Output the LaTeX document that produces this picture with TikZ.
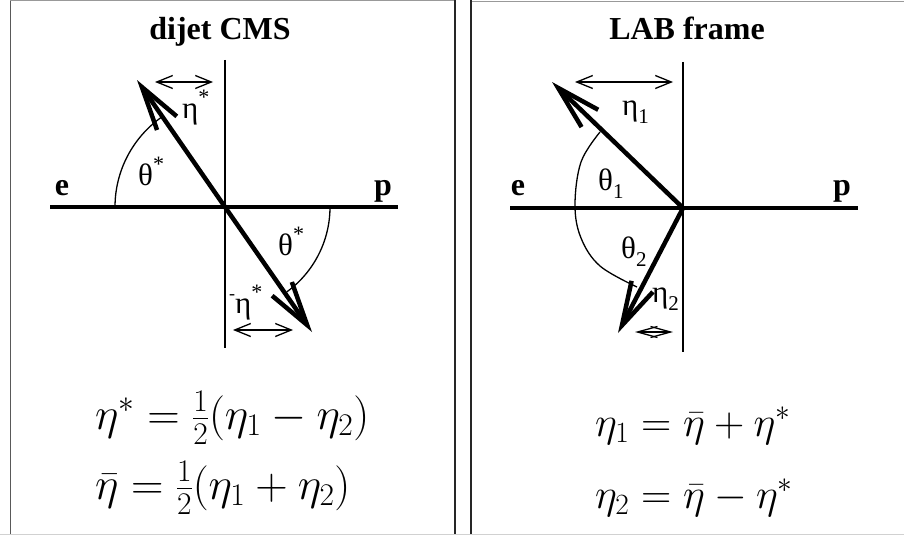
\RequirePackage{fix-cm}
\documentclass[tikz,border=0pt]{standalone}
\usepackage[no-math]{fontspec}
\setmainfont{Liberation Serif}
\usetikzlibrary{arrows.meta}
\newcommand{\Ast}{\raisebox{0.42em}{\fontsize{22}{22}\selectfont *}}
\newcommand{\Sub}[1]{\raisebox{-0.28em}{\fontsize{21}{21}\selectfont #1}}
\begin{document}
\begin{tikzpicture}[x=1pt,y=-1pt,
  axisline/.style={line width=4pt},
  vaxis/.style={line width=1.5pt},
  vec/.style={line width=4.5pt,-{Straight Barb[length=44pt,width=24pt]}},
  spanarrow/.style={line width=1.3pt,{Straight Barb[length=16pt,width=13pt]}-{Straight Barb[length=16pt,width=13pt]}},
  anglearc/.style={line width=1.3pt},
  frameline/.style={line width=1.4pt,black!85},
  title/.style={font=\fontsize{32}{32}\selectfont\bfseries, anchor=base, inner sep=0pt},
  endlbl/.style={font=\fontsize{32}{32}\selectfont\bfseries, anchor=base, inner sep=0pt},
  glbl/.style={font=\fontsize{31}{31}\selectfont, anchor=base west, inner sep=0pt},
  formula/.style={font=\fontsize{45}{50}\selectfont, anchor=base west, inner sep=0pt},
  formulaR/.style={font=\fontsize{42}{48}\selectfont, anchor=base west, inner sep=0pt},
]
\path[use as bounding box] (0,0) rectangle (904,535);

% panel frames
\draw[line width=1.5pt,black!65] (10.5,0) -- (10.5,535);
\draw[line width=1.2pt,black!40] (10,0.8) -- (455,0.8);
\draw[line width=1.2pt,black!40] (471,1.2) -- (904,1.2);
\draw[frameline] (455,0) -- (455,535);
\draw[frameline] (471,0) -- (471,535);
\draw[line width=1pt,black!18] (0,534.5) -- (904,534.5);

% ---------------- left panel: dijet CMS ----------------
\node[title] (t1) at (220,40) {dijet CMS};
\coordinate (O1) at (225,207);
\coordinate (ax1w) at (50,207);
\coordinate (ax1e) at (398,207);
\coordinate (ax1n) at (225,60);
\coordinate (ax1s) at (225,348);
\coordinate (A) at (137,80);
\coordinate (B) at (312,332);
\draw[axisline] (ax1w) -- (ax1e);
\draw[vaxis] (ax1n) -- (ax1s);
\node[endlbl] (e1) at (62,195) {e};
\node[endlbl] (p1) at (383,195) {p};
\draw[anglearc] (115,207) arc[start angle=180,end angle=235,radius=110];
\draw[anglearc] (330,207) arc[start angle=0,end angle=54,radius=105];
\draw[vec] (O1) -- (A);
\draw[vec] (O1) -- (B);
\coordinate (s1a) at (155,82);
\coordinate (s1b) at (213,82);
\draw[spanarrow] (s1a) -- (s1b);
\coordinate (s2a) at (233,330);
\coordinate (s2b) at (293,330);
\draw[spanarrow] (s2a) -- (s2b);
\node[glbl] (th1) at (138,185) {θ\Ast};
\node[glbl] (th2) at (278,255) {θ\Ast};
\node[glbl] (et1) at (182,118) {η\Ast};
\node[glbl] (et2) at (229,313) {\raisebox{0.45em}{\fontsize{18}{18}\selectfont -}η\Ast};

\node[formula] (f1) at (95,429) {$\eta^* = \frac{1}{2}(\eta_1 - \eta_2)$};
\node[formula] (f2) at (95,499) {$\bar\eta = \frac{1}{2}(\eta_1 + \eta_2)$};

% ---------------- right panel: LAB frame ----------------
\node[title] (t2) at (687,40) {LAB frame};
\coordinate (O2) at (683,208);
\coordinate (ax2w) at (510,208);
\coordinate (ax2e) at (858,208);
\coordinate (ax2n) at (683,62);
\coordinate (ax2s) at (683,352);
\coordinate (C) at (552,82);
\coordinate (D) at (618,333);
\draw[axisline] (ax2w) -- (ax2e);
\draw[vaxis] (ax2n) -- (ax2s);
\node[endlbl] (e2) at (518,195) {e};
\node[endlbl] (p2) at (842,195) {p};
\draw[anglearc] plot[smooth,tension=0.6] coordinates {(600,132) (581,162) (575,205) (581,238) (600,266) (637,287)};
\draw[vec] (O2) -- (C);
\draw[vec] (O2) -- (D);
\coordinate (s3a) at (575,82);
\coordinate (s3b) at (673,82);
\draw[spanarrow] (s3a) -- (s3b);
\coordinate (s4a) at (635,332);
\coordinate (s4b) at (673,332);
\draw[line width=1.3pt,{Straight Barb[length=20pt,width=11pt]}-{Straight Barb[length=20pt,width=11pt]}] (s4a) -- (s4b);
\node[glbl] (eta1) at (622,115) {η\Sub{1}};
\node[glbl] (tha) at (598,190) {θ\Sub{1}};
\node[glbl] (thb) at (621,258) {θ\Sub{2}};
\node[glbl] (eta2) at (652,302) {η\Sub{2}};

\node[formulaR] (f3) at (595,436) {$\eta_1 = \bar\eta + \eta^*$};
\node[formulaR] (f4) at (595,508) {$\eta_2 = \bar\eta - \eta^*$};
\end{tikzpicture}
\end{document}
